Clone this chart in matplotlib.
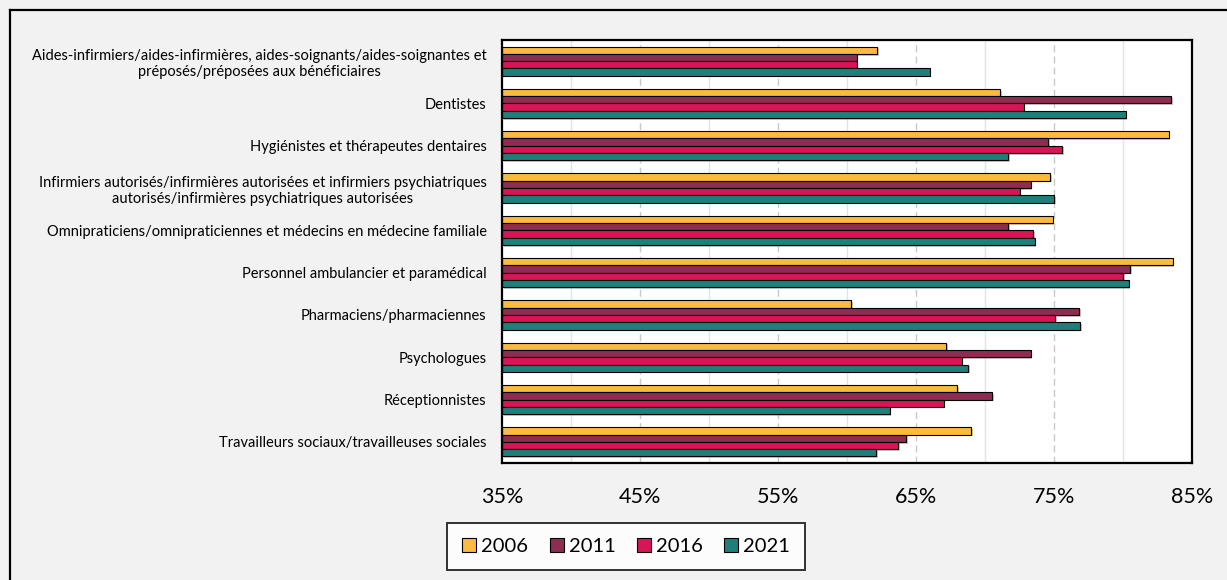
import matplotlib
matplotlib.use("Agg")
import matplotlib.pyplot as plt
import matplotlib.patheffects as pe
from matplotlib.lines import Line2D
from matplotlib.patches import Patch
import numpy as np

plt.rcParams['font.family'] = ['Lato', 'DejaVu Sans']

categories = [
    "Aides-infirmiers/aides-infirmières, aides-soignants/aides-soignantes et\npréposés/préposées aux bénéficiaires",
    "Dentistes",
    "Hygiénistes et thérapeutes dentaires",
    "Infirmiers autorisés/infirmières autorisées et infirmiers psychiatriques\nautorisés/infirmières psychiatriques autorisées",
    "Omnipraticiens/omnipraticiennes et médecins en médecine familiale",
    "Personnel ambulancier et paramédical",
    "Pharmaciens/pharmaciennes",
    "Psychologues",
    "Réceptionnistes",
    "Travailleurs sociaux/travailleuses sociales",
]
years = ["2006", "2011", "2016", "2021"]
v2006 = [62.2, 71.1, 83.3, 74.7, 74.9, 83.6, 60.3, 67.2, 68.0, 69.0]
v2011 = [60.7, 83.5, 74.6, 73.3, 71.7, 80.5, 76.8, 73.3, 70.5, 64.3]
v2016 = [60.7, 72.8, 75.6, 72.5, 73.5, 80.0, 75.1, 68.3, 67.0, 63.7]
v2021 = [66.0, 80.2, 71.7, 75.0, 73.6, 80.4, 76.9, 68.8, 63.1, 62.1]
colors = ["#FDBA40", "#8E2C52", "#D81557", "#1F807B"]
tick_vals = [35, 45, 55, 65, 75, 85]

W, H = 1227, 580
fig = plt.figure(figsize=(W / 100, H / 100), dpi=100)
fig.patch.set_facecolor("#F2F2F2")

# outer chart frame (only left/top visible in the crop)
fig.add_artist(Line2D([10 / W, 10 / W], [0, 1 - 10 / H], color="black", lw=1.6, transform=fig.transFigure))
fig.add_artist(Line2D([10 / W, 1], [1 - 10 / H, 1 - 10 / H], color="black", lw=1.6, transform=fig.transFigure))

left, right, top, bottom = 502, 1192, 40, 463
ax = fig.add_axes([left / W, 1 - bottom / H, (right - left) / W, (bottom - top) / H])
ax.set_facecolor("white")

shadow = [pe.SimplePatchShadow(offset=(1.2, -1.2), shadow_rgbFace="#7F7F7F", alpha=0.45), pe.Normal()]

y = np.arange(len(categories))
h = 0.172
series = [v2006, v2011, v2016, v2021]
for j, (vals, col, yr) in enumerate(zip(series, colors, years)):
    ax.barh(y + (j - 1.5) * h, np.array(vals) - 35, left=35, height=h, color=col,
            edgecolor="black", linewidth=0.8, zorder=3, label=yr, path_effects=shadow)

# gridlines: solid light every 10 from 40, dashed every 10 from 45
for g in [40, 50, 60, 70, 80]:
    ax.axvline(g, color="#E3E3E3", lw=1.0, zorder=1)
for g in [45, 55, 65, 75]:
    ax.axvline(g, color="#C8C8C8", lw=1.0, ls=(0, (5, 3)), zorder=1)

ax.set_xlim(35, 85)
ax.set_ylim(len(categories) - 0.5, -0.5)
ax.set_xticks(tick_vals)
ax.set_xticklabels([f"{t}%" for t in tick_vals], fontsize=15.5)
ax.set_yticks(y)
ax.set_yticklabels(categories, fontsize=10.5, multialignment="center", linespacing=1.25)
ax.tick_params(axis="x", length=0, pad=17)
ax.tick_params(axis="y", length=0, pad=11)
for s in ax.spines.values():
    s.set_linewidth(1.6)
    s.set_color("black")
    s.set_zorder(5)

handles = [Patch(facecolor=c, edgecolor="black", linewidth=0.8) for c in colors]
leg = fig.legend(handles, years, loc="center", bbox_to_anchor=(626 / W, 1 - 546.5 / H),
                 ncol=4, fontsize=14.5, frameon=True, fancybox=False, handlelength=0.7,
                 handleheight=0.7, handletextpad=0.25, columnspacing=1.05, borderpad=0.75)
leg.get_frame().set_edgecolor("black")
leg.get_frame().set_linewidth(1.4)
leg.get_frame().set_facecolor("white")

fig.savefig("out.png", dpi=100, facecolor=fig.get_facecolor())
